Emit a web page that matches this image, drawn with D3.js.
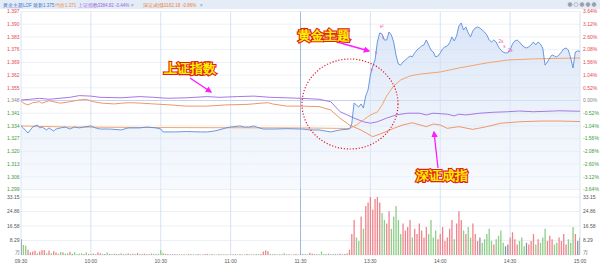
<!DOCTYPE html>
<html><head><meta charset="utf-8">
<script src="https://cdn.jsdelivr.net/npm/d3@7"></script>
<style>
html,body{margin:0;padding:0;background:#fff;}
svg{display:block;}
text{font-family:"Liberation Sans",Arial,sans-serif;}
</style></head><body>
<svg id="c" width="600" height="267"></svg>
<script>
// ---------- DATA ----------
const priceTicks = [1.397,1.390,1.383,1.376,1.369,1.362,1.355,1.348,1.341,1.334,1.327,1.320,1.313,1.306,1.299];
const pctTicks = [3.64,3.12,2.60,2.08,1.56,1.04,0.52,0.00,-0.52,-1.04,-1.56,-2.08,-2.60,-3.12,-3.64];
const volTicks = [33.15,24.86,16.58,8.29];
const volUnit = "万";
const timeLabels = ["09:30","10:00","10:30","11:00","11:30","13:30","14:00","14:30","15:00"];
const timeMinutes = [0,30,60,90,120,150,180,210,240];
const prevClose = 1.348;

// 黄金主题LOF price  [minute, price]
const lofPrice = [[0,1.3340],[1,1.3329],[3,1.3301],[4,1.3318],[5,1.3334],[7,1.3345],[8,1.3329],[9,1.3334],[11,1.3318],[12,1.3329],[14,1.3312],[15,1.3323],[17,1.3329],[19,1.3334],[21,1.3323],[23,1.3334],[25,1.3329],[27,1.3334],[30,1.3340],[32,1.3329],[34,1.3323],[38,1.3323],[43,1.3318],[46,1.3329],[51,1.3329],[54,1.3334],[58,1.3329],[60,1.3323],[61,1.3307],[66,1.3307],[71,1.3309],[77,1.3307],[80,1.3307],[83,1.3312],[85,1.3318],[88,1.3329],[90,1.3334],[94,1.3340],[96,1.3334],[98,1.3334],[100,1.3340],[101,1.3334],[104,1.3323],[109,1.3323],[114,1.3325],[120,1.3323],
[121,1.3323],[124,1.3318],[128,1.3318],[133,1.3307],[137,1.3318],[141,1.3323],[142,1.3351],[143,1.3466],[144,1.3455],[145,1.3444],[146,1.3461],[147,1.3439],[148,1.3505],[149,1.3538],[150,1.3620],[151,1.3670],[152,1.3703],[153,1.3802],[154,1.3852],[155,1.3846],[156,1.3813],[157,1.3813],[158,1.3857],[159,1.3841],[160,1.3802],[161,1.3731],[162,1.3681],[163,1.3675],[164,1.3692],[165,1.3703],[166,1.3714],[167,1.3725],[168,1.3720],[169,1.3742],[170,1.3758],[171,1.3769],[172,1.3780],[173,1.3786],[174,1.3813],[175,1.3786],[176,1.3758],[177,1.3747],[178,1.3720],[179,1.3725],[180,1.3742],[181,1.3764],[182,1.3775],[183,1.3780],[184,1.3797],[185,1.3830],[186,1.3808],[187,1.3835],[188,1.3890],[189,1.3907],[190,1.3868],[191,1.3885],[192,1.3852],[193,1.3830],[194,1.3863],[195,1.3879],[196,1.3885],[197,1.3879],[198,1.3868],[199,1.3857],[200,1.3841],[201,1.3813],[202,1.3802],[203,1.3813],[204,1.3802],[205,1.3775],[206,1.3758],[207,1.3747],[208,1.3742],[209,1.3742],[210,1.3758],[211,1.3791],[212,1.3808],[213,1.3813],[214,1.3802],[215,1.3786],[216,1.3775],[217,1.3769],[218,1.3775],[219,1.3786],[220,1.3802],[221,1.3786],[222,1.3802],[223,1.3791],[224,1.3769],[225,1.3675],[226,1.3692],[227,1.3714],[228,1.3731],[229,1.3725],[230,1.3720],[231,1.3731],[232,1.3747],[233,1.3764],[234,1.3769],[235,1.3758],[236,1.3714],[237,1.3659],[238,1.3747],[239,1.3753],[240,1.3750]];

// 均价 (average price)  [minute, price]
const lofAvg = [[0,1.3340],[20,1.3334],[60,1.3331],[120,1.3329],[141,1.3326],[144,1.3345],[147,1.3373],[150,1.3400],[153,1.3417],[155,1.3455],[157,1.3505],[160,1.3560],[163,1.3593],[167,1.3615],[171,1.3625],[180,1.3637],[188,1.3659],[200,1.3687],[209,1.3703],[220,1.3709],[231,1.3712],[240,1.3714]];

// 上证指数 change %  [minute, pct]
const shIndexPct = [[0,0.02],[4,0.05],[8,0.09],[12,0.05],[21,0.13],[25,0.20],[30,0.18],[34,0.13],[43,0.11],[51,0.16],[57,0.13],[63,0.09],[71,0.11],[80,0.16],[85,0.13],[93,0.16],[100,0.18],[107,0.13],[114,0.11],[120,0.09],[128,0.05],[133,-0.05],[137,-0.46],[140,-0.59],[143,-0.72],[147,-0.87],[150,-0.93],[153,-0.87],[157,-0.72],[161,-0.59],[166,-0.52],[171,-0.52],[174,-0.59],[177,-0.52],[183,-0.56],[186,-0.63],[188,-0.56],[191,-0.59],[197,-0.52],[203,-0.48],[209,-0.46],[214,-0.43],[220,-0.46],[229,-0.43],[231,-0.42],[240,-0.44]];

// 深证成指 change %  [minute, pct]
const szIndexPct = [[0,-0.01],[1,-0.11],[3,-0.18],[5,-0.09],[8,-0.05],[9,-0.11],[12,-0.01],[17,-0.11],[21,-0.05],[25,0.02],[28,0.05],[31,-0.05],[35,-0.11],[40,-0.14],[43,-0.11],[47,-0.09],[52,-0.11],[57,-0.14],[64,-0.18],[71,-0.23],[80,-0.23],[88,-0.18],[97,-0.16],[103,-0.11],[106,-0.09],[108,-0.14],[114,-0.23],[120,-0.23],[128,-0.25],[133,-0.39],[137,-0.73],[141,-1.00],[146,-1.21],[151,-1.48],[155,-1.34],[160,-1.14],[164,-1.00],[168,-0.91],[174,-1.07],[177,-0.96],[180,-1.00],[183,-1.14],[188,-1.07],[194,-1.18],[200,-1.07],[206,-0.93],[214,-0.87],[223,-0.84],[231,-0.84],[240,-0.86]];

// volume per minute (万), minute 0..240
const volume = [9,5.7,5.3,3,1.5,2,2.5,1,2,2.8,
2.8,1,2.5,1,2.2,1.5,0.8,1.8,1.5,0.8,
1,1.8,0.6,1.6,0.5,0.8,1,0.6,1.5,0.5,
0.6,0.8,0.5,1.5,1,0.6,0.5,1.4,0.6,0.5,
0.8,0.6,0.4,1,0.5,0.6,0.9,0.4,0.8,0.5,
1.2,0.6,0.4,0.7,0.5,0.4,0.9,0.5,0.6,0.7,
2.8,1.2,0.6,0.4,0.4,0.5,0.4,0.3,0.5,0.3,
0.4,0.3,0.6,0.3,0.4,0.3,0.5,0.3,0.3,0.4,
0.6,0.3,0.4,0.3,0.3,0.5,0.3,0.4,0.3,0.3,
0.4,0.3,0.5,0.3,0.4,0.3,0.3,0.6,0.3,0.4,
0.3,0.4,0.5,0.6,2,2.6,2.2,0.6,0.5,0.4,
0.3,0.4,0.3,1,0.3,0.4,0.3,0.3,0.6,0.3,
0.4,
0.4,0.5,0.3,1.2,0.8,0.4,0.5,0.3,2,0.6,
0.4,0.8,0.5,0.4,0.6,0.4,0.8,0.5,0.6,1,
3,12,20,10,8,22,15,28,30,35,
26,32,38,30,24,20,18,25,15,22,
28,20,12,18,14,16,20,10,15,12,
18,14,10,16,12,20,10,14,9,12,
16,8,10,15,20,9,18,25,20,14,
12,16,10,18,12,8,10,7,9,12,
15,8,6,9,11,14,7,5,6,10,
13,9,6,8,10,5,7,6,8,12,
6,9,7,10,15,8,11,9,6,7,
10,8,12,6,9,7,16,12,8,10];
// direction per minute: u = up (red), d = down (green), f = flat (grey)
const volumeDir = ["fdduuuuduu","ududuuddud","dufddddudf","duduudfdud","dufdudufdu","udfudfdudd",
"ddufdufudf","udufdufduf","udfudufdfu","dfudfudufd","ufduuuuddf","dufdfudfud","f",
"fdfuufdfdd","fudfdfudud","uuudduduuu","uuuudduudd","ddduuuuduu","uuuudddduu",
"uuuuuduuud","udduuufddd","dduddddffu","uuudddfuuu","duddduuudd","uuuuddduff"].join("").split("");

const tradeMarks = [[154,1.3880,"s²"],[155,1.3820,"s"],[152,1.3735,"s"],[150,1.3640,"s"],[205,1.3795,"2s"],[207,1.3768,"s"],[209,1.3745,"2s"]];

// ---------- CHART ----------
const svg = d3.select("#c");
const X0 = 21, X1 = 580;
const x = d3.scaleLinear().domain([0,240]).range([X0,X1]);
const yP = d3.scaleLinear().domain([1.299,1.397]).range([189.5,11.5]);
const yPct = d3.scaleLinear().domain([-3.64,3.64]).range([189.5,11.5]);
const yV = d3.scaleLinear().domain([0,33.15]).range([255,197]);

const defs = svg.append("defs");
const g = defs.append("linearGradient").attr("id","af").attr("gradientUnits","userSpaceOnUse")
  .attr("x1",0).attr("x2",0).attr("y1",11.5).attr("y2",189.5);
g.append("stop").attr("offset","0%").attr("stop-color","#c9daf4").attr("stop-opacity",0.75);
g.append("stop").attr("offset","100%").attr("stop-color","#e9f0fa").attr("stop-opacity",0.35);
const mk = defs.append("marker").attr("id","arr").attr("viewBox","0 0 10 10").attr("refX",8).attr("refY",5)
  .attr("markerWidth",5).attr("markerHeight",5).attr("orient","auto");
mk.append("path").attr("d","M0,0 L10,5 L0,10 z").attr("fill","#ff1aff");
const clip = defs.append("clipPath").attr("id","volclip");
clip.append("rect").attr("x",X0).attr("y",197).attr("width",X1-X0).attr("height",58);

// header bar
svg.append("rect").attr("x",0).attr("y",0).attr("width",600).attr("height",9).attr("fill","#e4ecf7");
const header = [
  ["黄金主题LOF",3,"#3f74c9"],["最新1.375",33,"#3f74c9"],["均价1.371",55,"#ee8a3c"],
  ["上证指数",78,"#9a66d6"],["3384.82",97.5,"#9a66d6"],["-0.44%",115,"#9a66d6"],["×",131,"#888"],
  ["深证成指",143,"#f07c34"],["10162.18",161.5,"#f07c34"],["-0.86%",182,"#f07c34"],["×",200,"#888"]];
svg.selectAll("text.hd").data(header).join("text").attr("class","hd")
  .attr("x",d=>d[1]).attr("y",6.5).attr("font-size",4.5).attr("fill",d=>d[2]).text(d=>d[0]);
[570,576,582,588,594].forEach((cx,i)=>{
  svg.append("circle").attr("cx",cx).attr("cy",4.5).attr("r",2).attr("fill",i==1?"none":"#9aa0a8").attr("stroke","#9aa0a8").attr("stroke-width",0.6);
});

// plot background
svg.append("rect").attr("x",X0).attr("y",11.5).attr("width",X1-X0).attr("height",178).attr("fill","#fff");

// horizontal grid
svg.selectAll("line.hg").data(priceTicks).join("line").attr("class","hg")
  .attr("x1",X0).attr("x2",X1).attr("y1",d=>yP(d)).attr("y2",d=>yP(d))
  .attr("stroke",d=>d===prevClose?"#c4d5ee":"#e7ecf4").attr("stroke-width",d=>d===prevClose?1:0.8);
svg.selectAll("line.vg").data(volTicks.concat([0])).join("line").attr("class","vg")
  .attr("x1",X0).attr("x2",X1).attr("y1",d=>yV(d)).attr("y2",d=>yV(d))
  .attr("stroke","#e7ecf4").attr("stroke-width",0.8);

// vertical grid
svg.selectAll("line.vl").data(timeMinutes).join("line").attr("class","vl")
  .attr("x1",d=>x(d)).attr("x2",d=>x(d)).attr("y1",11.5).attr("y2",255)
  .attr("stroke",d=>d===120?"#9bb8e2":"#cddbf0").attr("stroke-width",d=>d===120?1:0.8);

// price area + lines
const area = d3.area().x(d=>x(d[0])).y0(189.5).y1(d=>yP(d[1]));
svg.append("path").datum(lofPrice).attr("d",area).attr("fill","url(#af)");
const lineP = d3.line().x(d=>x(d[0])).y(d=>yP(d[1]));
const linePct = d3.line().x(d=>x(d[0])).y(d=>yPct(d[1]));
svg.append("path").datum(shIndexPct).attr("d",linePct).attr("fill","none").attr("stroke","#a678e6").attr("stroke-width",1);
svg.append("path").datum(szIndexPct).attr("d",linePct).attr("fill","none").attr("stroke","#f0966a").attr("stroke-width",1);
svg.append("path").datum(lofAvg).attr("d",lineP).attr("fill","none").attr("stroke","#f5a46c").attr("stroke-width",1);
svg.append("path").datum(lofPrice).attr("d",lineP).attr("fill","none").attr("stroke","#5a8ddc").attr("stroke-width",0.9);

// trade marks
svg.selectAll("text.tm").data(tradeMarks).join("text").attr("class","tm")
  .attr("x",d=>x(d[0])).attr("y",d=>yP(d[1])).attr("font-size",4.5).attr("fill","#ee4fb0").text(d=>d[2]);

// volume bars
const colDir = {u:"#f0848c",d:"#8ccf86",f:"#8a909b"};
svg.append("g").attr("clip-path","url(#volclip)").selectAll("rect").data(volume).join("rect")
  .attr("x",(d,i)=>x(i)-0.6).attr("width",1.3).attr("y",d=>yV(d)).attr("height",d=>yV(0)-yV(d))
  .attr("fill",(d,i)=>colDir[volumeDir[i]]);

// axis labels
const colOf = v => v>0?"#e5484d":(v<0?"#3c9a3c":"#888");
svg.selectAll("text.la").data(priceTicks).join("text").attr("class","la")
  .attr("x",19.5).attr("y",d=>yP(d)).attr("dy","0.35em").attr("text-anchor","end").attr("font-size",5)
  .attr("fill",d=>colOf(+(d-prevClose).toFixed(4))).text(d=>d.toFixed(3));
svg.selectAll("text.ra").data(pctTicks).join("text").attr("class","ra")
  .attr("x",583).attr("y",d=>yPct(d)).attr("dy","0.35em").attr("font-size",5)
  .attr("fill",d=>colOf(d)).text(d=>d.toFixed(2)+"%");
svg.selectAll("text.lv").data(volTicks).join("text").attr("class","lv")
  .attr("x",19.5).attr("y",d=>yV(d)).attr("dy","0.35em").attr("text-anchor","end").attr("font-size",5).attr("fill","#555").text(d=>d.toFixed(2));
svg.selectAll("text.rv").data(volTicks).join("text").attr("class","rv")
  .attr("x",583).attr("y",d=>yV(d)).attr("dy","0.35em").attr("font-size",5).attr("fill","#555").text(d=>d.toFixed(2));
svg.append("text").attr("x",19.5).attr("y",yV(0)-1).attr("text-anchor","end").attr("font-size",5).attr("fill","#555").text(volUnit);
svg.append("text").attr("x",583).attr("y",yV(0)-1).attr("font-size",5).attr("fill","#555").text(volUnit);
svg.selectAll("text.tl").data(timeLabels).join("text").attr("class","tl")
  .attr("x",(d,i)=>x(timeMinutes[i])).attr("y",263).attr("text-anchor","middle").attr("font-size",5).attr("fill","#555").text(d=>d);

// annotations
svg.append("ellipse").attr("cx",350).attr("cy",104).attr("rx",48).attr("ry",45)
  .attr("fill","none").attr("stroke","#e8192c").attr("stroke-width",1.2).attr("stroke-dasharray","1.2,1.8");
const arrows = [[337,42,369,51],[190,78,211,92],[438,168,434,132]];
svg.selectAll("line.ar").data(arrows).join("line").attr("class","ar")
  .attr("x1",d=>d[0]).attr("y1",d=>d[1]).attr("x2",d=>d[2]).attr("y2",d=>d[3])
  .attr("stroke","#ff1aff").attr("stroke-width",1.3).attr("marker-end","url(#arr)");
const notes = [["黄金主题",298,40],["上证指数",164,73],["深证成指",416,180]];
svg.selectAll("text.nt").data(notes).join("text").attr("class","nt")
  .attr("x",d=>d[1]).attr("y",d=>d[2]).attr("font-size",12.5).attr("font-weight","bold")
  .attr("font-family","'Noto Sans CJK SC',sans-serif")
  .attr("fill","#fff200").attr("stroke","#e0201c").attr("stroke-width",2.2).attr("paint-order","stroke")
  .text(d=>d[0]);
</script>
</body></html>
